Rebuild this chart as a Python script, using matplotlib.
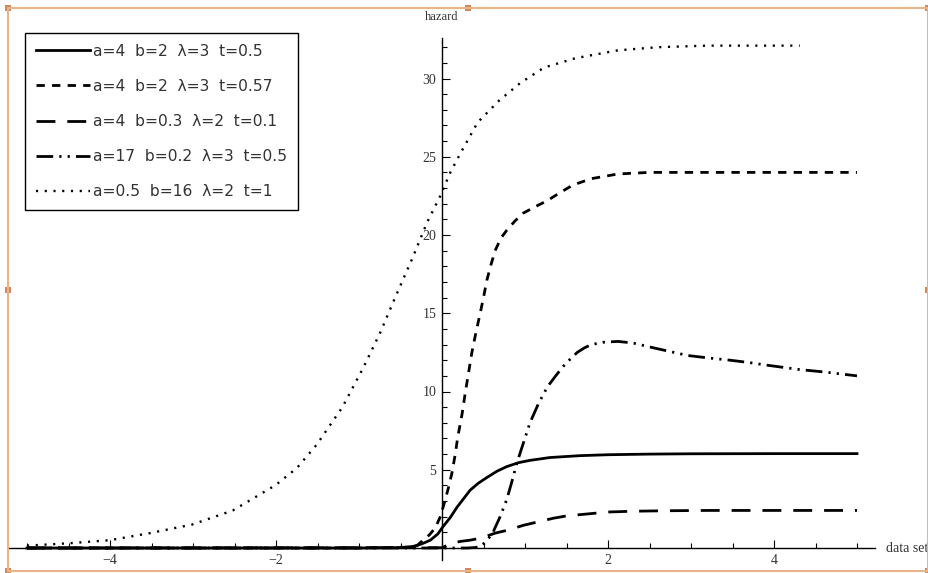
import matplotlib
matplotlib.use("Agg")
import matplotlib.pyplot as plt
from matplotlib.patches import Rectangle
from matplotlib.lines import Line2D
from matplotlib.ticker import FixedLocator
import numpy as np

# values
labels = ["a=4  b=2  λ=3  t=0.5",
          "a=4  b=2  λ=3  t=0.57",
          "a=4  b=0.3  λ=2  t=0.1",
          "a=17  b=0.2  λ=3  t=0.5",
          "a=0.5  b=16  λ=2  t=1"]

x1 = [-5, -1, -0.5, -0.35, -0.25, -0.14, -0.05, 0.01, 0.1, 0.18, 0.26, 0.34, 0.44, 0.54,
      0.66, 0.78, 0.92, 1.06, 1.3, 1.66, 2.0, 2.5, 3, 4, 5]
y1 = [0.0, 0.0, 0.02, 0.1, 0.25, 0.5, 0.9, 1.35, 1.95, 2.6, 3.15, 3.7, 4.15, 4.5,
      4.9, 5.2, 5.45, 5.6, 5.78, 5.9, 5.96, 6.0, 6.02, 6.03, 6.03]

x2 = [-5, -1, -0.4, -0.3, -0.23, -0.15, -0.08, -0.02, 0.04, 0.08, 0.12, 0.16, 0.19, 0.24,
      0.28, 0.32, 0.36, 0.41, 0.46, 0.5, 0.54, 0.59, 0.64, 0.71, 0.78, 0.88, 0.98, 1.12,
      1.27, 1.42, 1.58, 1.8, 2.12, 2.5, 3, 4, 5]
y2 = [0, 0, 0.05, 0.15, 0.5, 0.85, 1.3, 2.0, 3.1, 3.9, 4.8, 6.0, 7.1, 8.5,
      9.9, 11.2, 12.5, 13.8, 15.0, 16.0, 17.1, 18.1, 19.0, 19.8, 20.3, 20.9, 21.4, 21.8,
      22.2, 22.7, 23.2, 23.6, 23.9, 24.0, 24.0, 24.0, 24.0]

x3 = [-5, 0, 0.12, 0.22, 0.34, 0.48, 0.64, 0.8, 0.98, 1.14, 1.34, 1.5, 1.7, 2.0,
      2.3, 2.7, 3.2, 4, 5]
y3 = [0, 0.02, 0.3, 0.42, 0.5, 0.65, 0.95, 1.15, 1.45, 1.65, 1.9, 2.05, 2.15, 2.3,
      2.35, 2.38, 2.4, 2.4, 2.4]

x4 = [-5, 0.3, 0.4, 0.46, 0.53, 0.61, 0.7, 0.78, 0.84, 0.9, 0.98, 1.06, 1.16, 1.27,
      1.37, 1.46, 1.55, 1.63, 1.72, 1.8, 1.95, 2.12, 2.3, 2.54, 2.75, 2.96, 3.2, 3.47,
      3.7, 3.89, 4.1, 4.31, 4.6, 5.0]
y4 = [0, 0, 0.03, 0.1, 0.4, 0.95, 2.0, 3.1, 4.2, 5.4, 6.7, 8.0, 9.2, 10.3,
      11.0, 11.6, 12.1, 12.5, 12.8, 13.0, 13.15, 13.2, 13.1, 12.8, 12.55, 12.3, 12.15, 12.0,
      11.85, 11.7, 11.55, 11.4, 11.25, 11.0]

x5 = [-5, -4.5, -4, -3.52, -3.01, -2.52, -2.01, -1.75, -1.51, -1.2, -0.95, -0.75, -0.54,
      -0.35, -0.18, -0.02, 0.1, 0.22, 0.43, 0.69, 0.94, 1.23, 1.61, 2.12, 2.6, 3.2, 3.8, 4.31]
y5 = [0.15, 0.3, 0.5, 0.95, 1.5, 2.4, 4.0, 5.1, 6.6, 9.0, 11.5, 13.7, 16.3,
      18.6, 20.8, 22.5, 24.0, 25.2, 27.2, 28.6, 29.7, 30.7, 31.3, 31.8, 32.0, 32.1, 32.1, 32.1]

W, H = 929, 573
fig = plt.figure(figsize=(W / 100, H / 100), dpi=100)
ax = fig.add_axes([0, 0, 1, 1])

# x=0 sits at pixel 442, 83 px per unit; y=0 at pixel 548 from top, 15.65 px per unit
ax.set_xlim(-442 / 83, (W - 442) / 83)
ax.set_ylim(-(H - 548) / 15.65, 548 / 15.65)

lw = 2.0
ax.plot(x1, y1, color="black", lw=lw, label=labels[0])
ax.plot(x2, y2, color="black", lw=lw, ls=(0, (3, 2.6)), label=labels[1])
ax.plot(x3, y3, color="black", lw=lw, ls=(0, (6.8, 4.3)), label=labels[2])
ax.plot(x4, y4, color="black", lw=lw, ls=(0, (6, 2.2, 0.8, 2.2, 0.8, 2.2)), label=labels[3])
ax.plot(x5, y5, color="black", lw=1.7, ls=(0, (0.9, 2.8)), label=labels[4])

# Mathematica style axes through the origin
for s in ["top", "right"]:
    ax.spines[s].set_visible(False)
ax.spines["left"].set_position(("data", 0))
ax.spines["bottom"].set_position(("data", 0))
ax.spines["left"].set_bounds(-0.77, 32.6)
ax.spines["bottom"].set_bounds(-5.23, 5.22)
for s in ["left", "bottom"]:
    ax.spines[s].set_linewidth(1.0)
ax.patch.set_visible(False)

ax.xaxis.set_major_locator(FixedLocator([-4, -2, 2, 4]))
ax.xaxis.set_minor_locator(FixedLocator(np.arange(-5, 5.01, 0.5)))
ax.yaxis.set_major_locator(FixedLocator([5, 10, 15, 20, 25, 30]))
ax.yaxis.set_minor_locator(FixedLocator(np.arange(1, 33, 1)))
ax.tick_params(which="major", direction="in", length=5.8, width=0.8, pad=4,
               labelsize=10, labelcolor="#333333")
ax.tick_params(which="minor", direction="in", length=3.4, width=0.8)
ax.set_xticklabels(["\u22124", "\u22122", "2", "4"])
for t in ax.get_xticklabels() + ax.get_yticklabels():
    t.set_family("Liberation Serif")

ax.text(0, 33.9, "hazard", ha="center", va="center", family="Liberation Serif",
        fontsize=9, color="#333333")
ax.text(5.35, 0, "data set", ha="left", va="center", family="Liberation Serif",
        fontsize=10, color="#333333")

leg = ax.legend(loc="upper left", bbox_to_anchor=(25 / W, 1 - 33 / H),
                bbox_transform=fig.transFigure, borderaxespad=0, fancybox=False,
                framealpha=1, edgecolor="black", handlelength=3.5, handletextpad=0.2,
                labelspacing=1.3, borderpad=0.68,
                prop={"family": "DejaVu Sans", "size": 11.2})
leg.get_frame().set_linewidth(1.0)
for t in leg.get_texts():
    t.set_color("#333333")

# orange selection frame with handles
fc = "#e8b48a"
x0, x1f, y0, y1f = 8 / W, 928 / W, 1 - 8 / H, 1 - 571 / H
for xs, ys in [([x0, x1f], [y0, y0]), ([x0, x1f], [y1f, y1f]),
               ([x0, x0], [y0, y1f]), ([x1f, x1f], [y0, y1f])]:
    fig.add_artist(Line2D(xs, ys, transform=fig.transFigure, color=fc, lw=1.5))
hw, hh = 6 / W, 6 / H
for hx in [x0, 468 / W, x1f]:
    for hy in [y0, 1 - 290 / H, y1f]:
        if hx == 468 / W and hy == 1 - 290 / H:
            continue
        fig.add_artist(Rectangle((hx - hw / 2, hy - hh / 2), hw, hh,
                                 transform=fig.transFigure, facecolor="#d4875a",
                                 edgecolor="none"))

fig.savefig("out.png", dpi=100)
